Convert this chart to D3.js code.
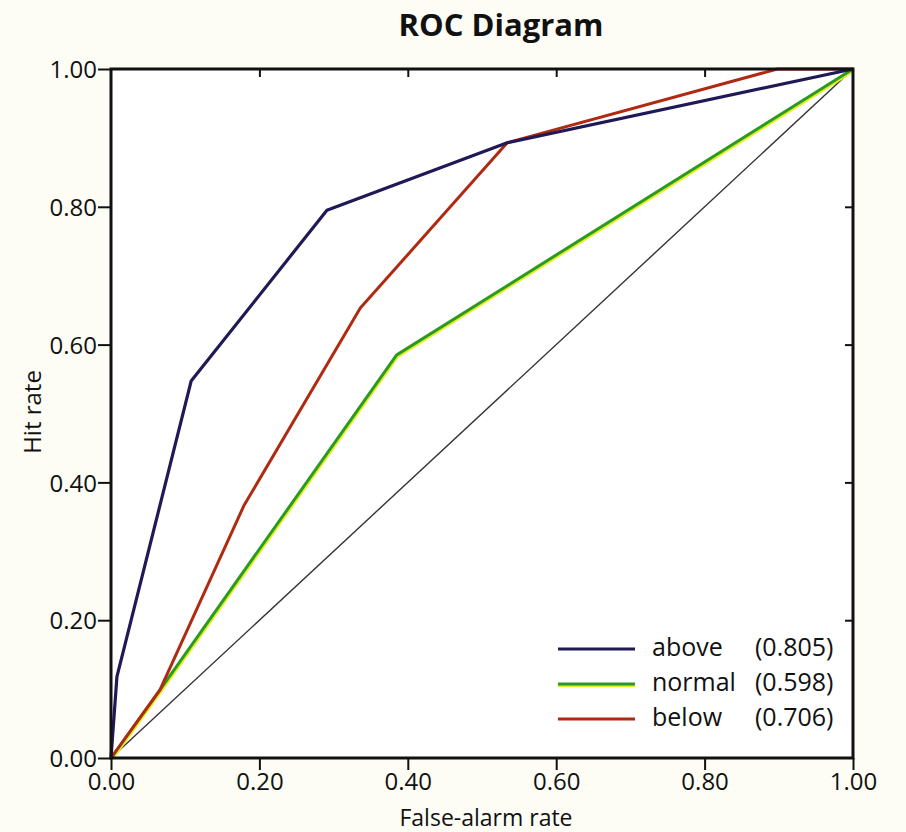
<!DOCTYPE html>
<html>
<head>
<meta charset="utf-8">
<script src="https://cdn.jsdelivr.net/npm/d3@7"></script>
<style>
  body { margin: 0; background: #fdfdf5; }
  text { font-family: "Open Sans", Lato, sans-serif; fill: #111; }
</style>
</head>
<body>
<div id="chart"></div>
<script>
// ROC curves: [false-alarm rate, hit rate]
const seriesNames = ["above", "normal", "below"];
const seriesScores = ["(0.805)", "(0.598)", "(0.706)"];
const abovePts = [[0, 0], [0.008, 0.118], [0.108, 0.547], [0.291, 0.795], [0.534, 0.893], [1, 1]];
const normalPts = [[0, 0], [0.066, 0.099], [0.385, 0.585], [1, 1]];
const belowPts = [[0, 0], [0.066, 0.099], [0.179, 0.366], [0.336, 0.653], [0.534, 0.893], [0.898, 1], [1, 1]];
const diagPts = [[0, 0], [1, 1]];
const tickVals = [0, 0.2, 0.4, 0.6, 0.8, 1.0];

const W = 906, H = 832;
const margin = {top : 69, right : 53, bottom : 74, left : 111};
const width = W - margin.left - margin.right;
const height = H - margin.top - margin.bottom;

const svg = d3.select("#chart").append("svg")
    .attr("width", W).attr("height", H);

svg.append("rect").attr("width", W).attr("height", H).attr("fill", "#fdfdf5");

const g = svg.append("g")
    .attr("transform", "translate(" + margin.left + "," + margin.top + ")");

const xScale = d3.scaleLinear().domain([0, 1]).range([0, width]);
const yScale = d3.scaleLinear().domain([0, 1]).range([height, 0]);

g.append("rect").attr("width", width).attr("height", height).attr("fill", "#fff");

const lineGen = d3.line()
    .x(function(d) { return xScale(d[0]); })
    .y(function(d) { return yScale(d[1]); });

// diagonal
g.append("path").attr("d", lineGen(diagPts))
    .attr("fill", "none").attr("stroke", "#333").attr("stroke-width", 1.4);

// normal: green with yellow edge
g.append("path").attr("d", lineGen(normalPts))
    .attr("transform", "translate(1,1.5)")
    .attr("fill", "none").attr("stroke", "#e4ef1c").attr("stroke-width", 3);
g.append("path").attr("d", lineGen(normalPts))
    .attr("fill", "none").attr("stroke", "#2b9a22").attr("stroke-width", 3);

g.append("path").attr("d", lineGen(belowPts))
    .attr("fill", "none").attr("stroke", "#b02a12").attr("stroke-width", 3)
    .attr("stroke-linejoin", "round");

g.append("path").attr("d", lineGen(abovePts))
    .attr("fill", "none").attr("stroke", "#1f1a55").attr("stroke-width", 3.2)
    .attr("stroke-linejoin", "round");

// axes
const fmt = d3.format(".2f");
const xAxis = g.append("g").attr("transform", "translate(0," + height + ")")
    .call(d3.axisBottom(xScale).tickValues(tickVals).tickFormat(fmt).tickSize(12).tickSizeOuter(0));
const yAxis = g.append("g")
    .call(d3.axisLeft(yScale).tickValues(tickVals).tickFormat(fmt).tickSize(13).tickSizeOuter(0));
const xTop = g.append("g")
    .call(d3.axisBottom(xScale).tickValues(tickVals.slice(1, 5)).tickFormat("").tickSize(8).tickSizeOuter(0));
const yRight = g.append("g").attr("transform", "translate(" + width + ",0)")
    .call(d3.axisLeft(yScale).tickValues(tickVals.slice(1, 5)).tickFormat("").tickSize(8).tickSizeOuter(0));

[xAxis, yAxis, xTop, yRight].forEach(function(a) {
  a.select(".domain").remove();
  a.selectAll("line").attr("stroke", "#111").attr("stroke-width", 2);
  a.selectAll("text").attr("font-size", 24).attr("fill", "#222")
      .style("font-family", "'Open Sans', Lato, sans-serif");
});
xAxis.selectAll("text").attr("y", 32).attr("dy", 0);
yAxis.selectAll("text").attr("x", -14).attr("dy", "0.36em");

// frame
g.append("rect").attr("width", width).attr("height", height)
    .attr("fill", "none").attr("stroke", "#111").attr("stroke-width", 3);

// title and axis labels
svg.append("text").attr("x", 501).attr("y", 36).attr("text-anchor", "middle")
    .attr("font-size", 31).attr("font-weight", "bold").text("ROC Diagram");
svg.append("text").attr("x", 486).attr("y", 826).attr("text-anchor", "middle")
    .attr("font-size", 23).attr("fill", "#222").text("False-alarm rate");
svg.append("text").attr("transform", "translate(41,412) rotate(-90)")
    .attr("text-anchor", "middle").attr("font-size", 24).attr("fill", "#222").text("Hit rate");

// legend
const legColors = ["#1f1a55", "#2b9a22", "#b02a12"];
const legY = d3.scaleLinear().domain([0, 2]).range([649, 719]);
seriesNames.forEach(function(name, i) {
  const y = legY(i);
  if (i == 1) {
    svg.append("line").attr("x1", 558).attr("x2", 635).attr("y1", y + 1.5).attr("y2", y + 1.5)
        .attr("stroke", "#e4ef1c").attr("stroke-width", 3);
  }
  svg.append("line").attr("x1", 558).attr("x2", 635).attr("y1", y).attr("y2", y)
      .attr("stroke", legColors[i]).attr("stroke-width", 3);
  svg.append("text").attr("x", 652).attr("y", y + 7).attr("font-size", 25)
      .attr("fill", "#222").text(name);
  svg.append("text").attr("x", 755).attr("y", y + 7).attr("font-size", 25)
      .attr("fill", "#222").text(seriesScores[i]);
});
</script>
</body>
</html>
